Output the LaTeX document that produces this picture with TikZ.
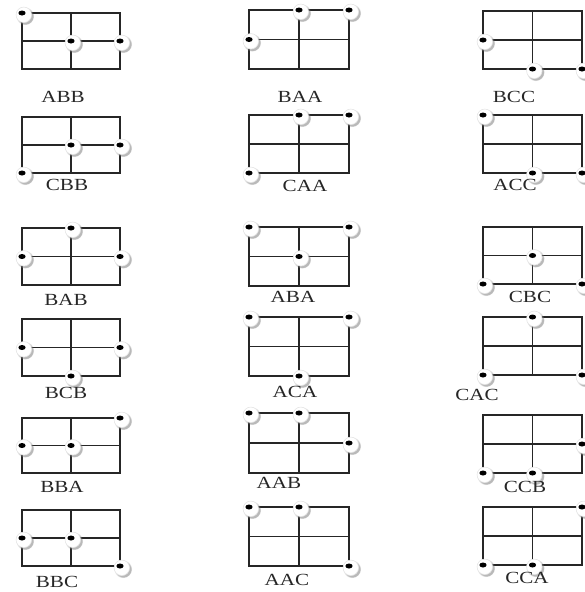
\documentclass[tikz,border=0pt]{standalone}
\usepackage{fontspec}
\newfontfamily\labelfont[FakeStretch=1.24]{Liberation Serif}
\usetikzlibrary{shadows}

\begin{document}
\begin{tikzpicture}[x=1pt, y=-1pt,
    grid/.style={rectangle, draw=black!85, line width=1.2pt, inner sep=0pt, outer sep=0pt, minimum width=100pt, minimum height=58pt,
        path picture={\draw[black!85, line width=1.2pt] (path picture bounding box.north) -- (path picture bounding box.south)
            (path picture bounding box.west) -- (path picture bounding box.east);}},
    dot/.style={circle, fill=white, draw=black!10, line width=0.6pt, inner sep=0pt, minimum size=15.5pt, xshift=1.8pt, yshift=-1.8pt,
        circular drop shadow={shadow xshift=1.2pt, shadow yshift=-1.2pt, shadow scale=1.15, opacity=0.55},
        path picture={\fill[black] ([xshift=-1.8pt, yshift=1.8pt]path picture bounding box.center) ellipse (3.6pt and 2.5pt);}},
    lbl/.style={font=\labelfont\fontsize{17}{19}\selectfont, text=black!85, inner sep=0pt}
]
\useasboundingbox (0,0) rectangle (585,592);

% === KOLOM KIRI ===
\node (abb) [grid, minimum width=98pt, minimum height=56pt] at (71,41) {};
\node (abb1) [dot] at (abb.north west) {}; \node (abb2) [dot] at (abb.center) {}; \node (abb3) [dot] at (abb.east) {};
\node (abbl) [lbl] at (63,97) {ABB};

\node (cbb) [grid, minimum width=98pt, minimum height=56pt] at (71,145) {};
\node (cbb1) [dot] at (cbb.south west) {}; \node (cbb2) [dot] at (cbb.center) {}; \node (cbb3) [dot] at (cbb.east) {};
\node (cbbl) [lbl] at (67,185) {CBB};

\node (bab) [grid, minimum width=98pt, minimum height=57pt] at (71,256.5) {};
\node (bab1) [dot] at (bab.west) {}; \node (bab2) [dot] at (bab.north) {}; \node (bab3) [dot] at (bab.east) {};
\node (babl) [lbl] at (66,300) {BAB};

\node (bcb) [grid, minimum width=98pt, minimum height=57pt] at (71,347.5) {};
\node (bcb1) [dot] at (bcb.west) {}; \node (bcb2) [dot] at (bcb.south) {}; \node (bcb3) [dot] at (bcb.east) {};
\node (bcbl) [lbl] at (66,393) {BCB};

\node (bba) [grid, minimum width=98pt, minimum height=55pt] at (71,445.5) {};
\node (bba1) [dot] at (bba.west) {}; \node (bba2) [dot] at (bba.center) {}; \node (bba3) [dot] at (bba.north east) {};
\node (bbal) [lbl] at (62,487) {BBA};

\node (bbc) [grid, minimum width=98pt, minimum height=56pt] at (71,538) {};
\node (bbc1) [dot] at (bbc.west) {}; \node (bbc2) [dot] at (bbc.center) {}; \node (bbc3) [dot] at (bbc.south east) {};
\node (bbcl) [lbl] at (57,582) {BBC};

% === KOLOM TENGAH ===
\node (baa) [grid, minimum height=59pt] at (299,39.5) {};
\node (baa1) [dot] at (baa.west) {}; \node (baa2) [dot] at (baa.north) {}; \node (baa3) [dot] at (baa.north east) {};
\node (baal) [lbl] at (300,97) {BAA};

\node (caa) [grid] at (299,144) {};
\node (caa1) [dot] at (caa.south west) {}; \node (caa2) [dot] at (caa.north) {}; \node (caa3) [dot] at (caa.north east) {};
\node (caal) [lbl] at (305,186) {CAA};

\node (aba) [grid, minimum height=59pt] at (299,256.5) {};
\node (aba1) [dot] at (aba.north west) {}; \node (aba2) [dot] at (aba.center) {}; \node (aba3) [dot] at (aba.north east) {};
\node (abal) [lbl] at (293,297) {ABA};

\node (aca) [grid, minimum height=59pt] at (299,346.5) {};
\node (aca1) [dot] at (aca.north west) {}; \node (aca2) [dot] at (aca.south) {}; \node (aca3) [dot] at (aca.north east) {};
\node (acal) [lbl] at (295,392) {ACA};

\node (aab) [grid, minimum height=60pt] at (299,443) {};
\node (aab1) [dot] at (aab.north west) {}; \node (aab2) [dot] at (aab.north) {}; \node (aab3) [dot] at (aab.east) {};
\node (aabl) [lbl] at (279,483) {AAB};

\node (aac) [grid, minimum height=59pt] at (299,536.5) {};
\node (aac1) [dot] at (aac.north west) {}; \node (aac2) [dot] at (aac.north) {}; \node (aac3) [dot] at (aac.south east) {};
\node (aacl) [lbl] at (287,580) {AAC};

% === KOLOM KANAN ===
\node (bcc) [grid, minimum width=99pt] at (532.5,40) {};
\node (bcc1) [dot] at (bcc.west) {}; \node (bcc2) [dot] at (bcc.south) {}; \node (bcc3) [dot] at (bcc.south east) {};
\node (bccl) [lbl] at (514,97) {BCC};

\node (acc) [grid, minimum width=99pt] at (532.5,144) {};
\node (acc1) [dot] at (acc.north west) {}; \node (acc2) [dot] at (acc.south) {}; \node (acc3) [dot] at (acc.south east) {};
\node (accl) [lbl] at (515,185) {ACC};

\node (cbc) [grid, minimum width=99pt, minimum height=57pt] at (532.5,255.5) {};
\node (cbc1) [dot] at (cbc.south west) {}; \node (cbc2) [dot] at (cbc.center) {}; \node (cbc3) [dot] at (cbc.south east) {};
\node (cbcl) [lbl] at (530,297) {CBC};

\node (cac) [grid, minimum width=99pt] at (532.5,346) {};
\node (cac1) [dot] at (cac.south west) {}; \node (cac2) [dot] at (cac.north) {}; \node (cac3) [dot] at (cac.south east) {};
\node (cacl) [lbl] at (477,395) {CAC};

\node (ccb) [grid, minimum width=99pt] at (532.5,444) {};
\node (ccb1) [dot] at (ccb.south west) {}; \node (ccb2) [dot] at (ccb.south) {}; \node (ccb3) [dot] at (ccb.east) {};
\node (ccbl) [lbl] at (525,487) {CCB};

\node (cca) [grid, minimum width=99pt] at (532.5,536) {};
\node (cca1) [dot] at (cca.south west) {}; \node (cca2) [dot] at (cca.south) {}; \node (cca3) [dot] at (cca.north east) {};
\node (ccal) [lbl] at (527,578) {CCA};

\end{tikzpicture}
\end{document}
